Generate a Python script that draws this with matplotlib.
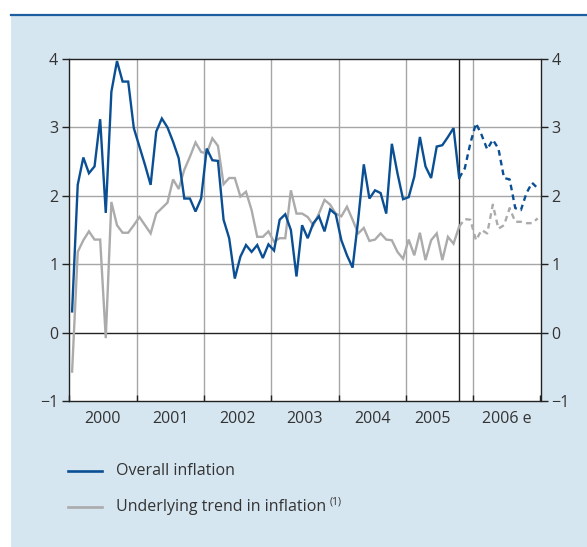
import matplotlib
matplotlib.use("Agg")
import matplotlib.pyplot as plt
from matplotlib.lines import Line2D
from matplotlib.patches import Rectangle
import numpy as np

plt.rcParams['font.family'] = ['Open Sans', 'DejaVu Sans']

# ---- data (monthly, Jan 2000 .. Dec 2006) ----
overall_actual = [
    0.31, 2.16, 2.56, 2.33, 2.43, 3.12, 1.75, 3.52, 3.97, 3.67, 3.67, 2.99,   # 2000
    2.72, 2.45, 2.16, 2.94, 3.13, 3.00, 2.79, 2.55, 1.96, 1.96, 1.77, 1.96,   # 2001
    2.69, 2.52, 2.51, 1.65, 1.38, 0.79, 1.11, 1.28, 1.18, 1.28, 1.09, 1.29,   # 2002
    1.20, 1.65, 1.73, 1.50, 0.82, 1.57, 1.38, 1.60, 1.70, 1.48, 1.80, 1.73,   # 2003
    1.35, 1.13, 0.95, 1.65, 2.46, 1.96, 2.08, 2.04, 1.74, 2.76, 2.33, 1.95,   # 2004
    1.98, 2.28, 2.86, 2.43, 2.26, 2.72, 2.74, 2.86, 2.99, 2.26,               # 2005 Jan-Oct
]
overall_forecast = [2.40, 2.77,                                               # 2005 Nov-Dec
    3.06, 2.89, 2.68, 2.82, 2.69, 2.26, 2.24, 1.82, 1.79, 2.04, 2.19, 2.11]   # 2006

underlying_actual = [
    -0.57, 1.18, 1.35, 1.48, 1.36, 1.36, -0.08, 1.91, 1.57, 1.46, 1.46, 1.57,
    1.69, 1.57, 1.45, 1.74, 1.82, 1.90, 2.24, 2.10, 2.38, 2.57, 2.78, 2.64,
    2.62, 2.84, 2.73, 2.17, 2.26, 2.26, 1.99, 2.06, 1.79, 1.40, 1.40, 1.48,
    1.33, 1.38, 1.38, 2.08, 1.74, 1.74, 1.69, 1.57, 1.74, 1.94, 1.87, 1.74,
    1.70, 1.84, 1.65, 1.45, 1.53, 1.34, 1.36, 1.45, 1.36, 1.35, 1.18, 1.08,
    1.36, 1.13, 1.46, 1.06, 1.35, 1.45, 1.06, 1.40, 1.30, 1.55,
]
underlying_forecast = [1.66, 1.65,
    1.35, 1.50, 1.45, 1.87, 1.52, 1.57, 1.82, 1.62, 1.62, 1.60, 1.60, 1.67]

year_labels = ["2000", "2001", "2002", "2003", "2004", "2005", "2006 e"]
y_ticks = [-1, 0, 1, 2, 3, 4]
legend_labels = ["Overall inflation", "Underlying trend in inflation"]

BLUE = "#0a4f93"
GRAY = "#ababab"
BG = "#d6e6f0"
TXT = "#333333"
FS = 11.5

W, H = 587, 547
fig = plt.figure(figsize=(W / 100, H / 100), dpi=100)
fig.patch.set_facecolor("white")

# panel background and top rule
fig.add_artist(Rectangle((11 / W, 0), 1 - 11 / W, 1 - 15 / H, transform=fig.transFigure,
                         facecolor=BG, edgecolor="none", zorder=-10))
fig.add_artist(Line2D([11 / W, 1], [1 - 14.5 / H, 1 - 14.5 / H], transform=fig.transFigure,
                      color="#1d5ea0", lw=1.6))

left, right, top, bottom = 69.3, 540.5, 59, 401
ax = fig.add_axes([left / W, 1 - bottom / H, (right - left) / W, (bottom - top) / H])
ax.set_facecolor("white")

n_act = len(overall_actual)
x_all = 2000 + (np.arange(n_act + len(overall_forecast)) + 0.5) / 12
x_act = x_all[:n_act]
x_fc = x_all[n_act - 1:]

ax.set_xlim(2000, 2007)
ax.set_ylim(-1, 4)

# grid
for yv in [1, 2, 3]:
    ax.axhline(yv, color="#a6a6a6", lw=1.0, zorder=1)
for xv in range(2001, 2007):
    ax.axvline(xv, color="#a6a6a6", lw=1.0, zorder=1)
ax.axhline(0, color="#222222", lw=1.0, zorder=1)
break_x = x_act[-1]
ax.axvline(break_x, color="#222222", lw=1.0, zorder=1)

# series
ax.plot(x_act, underlying_actual, color=GRAY, lw=1.7, zorder=3, solid_joinstyle="miter")
ax.plot(x_fc, [underlying_actual[-1]] + underlying_forecast, color=GRAY, lw=1.7,
        ls=(0, (2.4, 1.8)), zorder=3)
ax.plot(x_act, overall_actual, color=BLUE, lw=1.7, zorder=4, solid_joinstyle="miter")
ax.plot(x_fc, [overall_actual[-1]] + overall_forecast, color=BLUE, lw=1.7,
        ls=(0, (2.4, 1.8)), zorder=4)

for s in ax.spines.values():
    s.set_color("#222222")
    s.set_linewidth(1.0)

# ticks
ax.set_yticks(y_ticks)
ax.set_yticklabels([str(v).replace("-", "\u2212") for v in y_ticks])
ax.tick_params(axis="y", which="major", direction="out", length=5, width=1.0,
               color="#222222", left=True, right=True, labelleft=True, labelright=True,
               labelsize=FS, labelcolor=TXT, pad=3)
ax.set_xticks(range(2000, 2008))
ax.set_xticklabels([])
ax.tick_params(axis="x", which="major", direction="in", length=4, width=1.0, color="#222222")
label_pos = [2000.5, 2001.5, 2002.5, 2003.5, 2004.5, (2005 + break_x) / 2, (2006 + 2007) / 2]
ax.set_xticks(label_pos, minor=True)
ax.set_xticklabels(year_labels, minor=True)
ax.tick_params(axis="x", which="minor", length=0, labelsize=FS, labelcolor=TXT, pad=7)

# legend
ly = [1 - 471 / H, 1 - 507 / H]
for yy, col, lab in zip(ly, [BLUE, GRAY], legend_labels):
    fig.add_artist(Line2D([68 / W, 102 / W], [yy, yy], transform=fig.transFigure, color=col, lw=1.9))
    t = fig.text(116 / W, yy, lab, ha="left", va="center", fontsize=FS, color=TXT)
fig.canvas.draw()
bb = t.get_window_extent()
fig.text((bb.x1 + 4) / W, yy + 5 / H, "(1)", ha="left", va="center", fontsize=7.5, color=TXT)

fig.savefig("out.png", dpi=100, facecolor=fig.get_facecolor())
